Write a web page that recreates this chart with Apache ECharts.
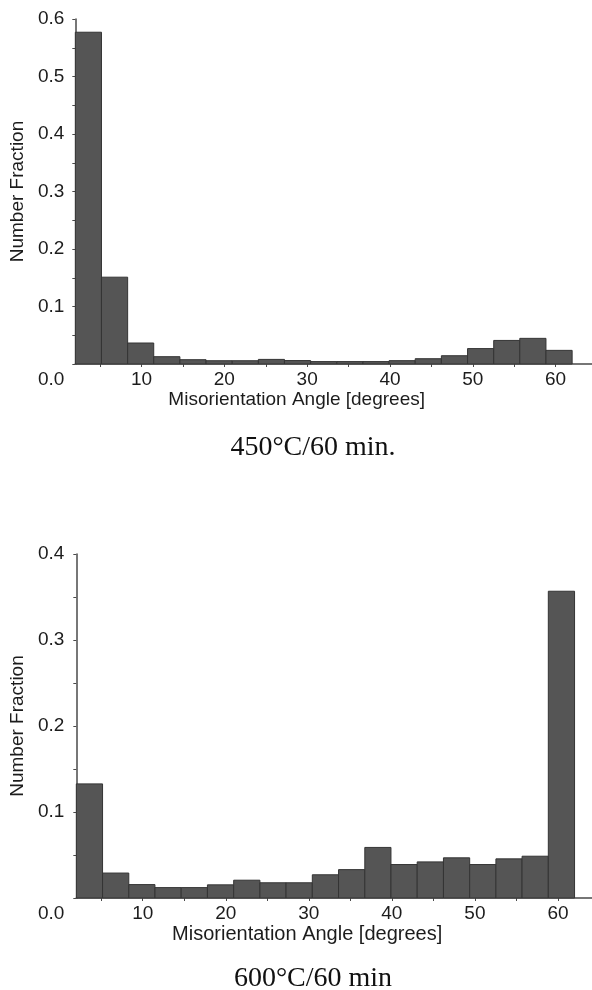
<!DOCTYPE html>
<html>
<head>
<meta charset="utf-8">
<script src="https://cdn.jsdelivr.net/npm/echarts@6.0.0/dist/echarts.min.js"></script>
<style>
html,body{margin:0;padding:0;background:#fff;}
#chart{width:592px;height:990px;}
</style>
</head>
<body>
<div id="chart"></div>
<script>
// Bin edges (misorientation angle, degrees)
const binEdges = [2, 5.16, 8.32, 11.47, 14.63, 17.79, 20.95, 24.11, 27.26, 30.42,
  33.58, 36.74, 39.89, 43.05, 46.21, 49.37, 52.53, 55.68, 58.84, 62];
// Number fraction per bin, 450°C/60 min
const fraction450 = [0.577, 0.151, 0.0365, 0.0127, 0.0075, 0.0057, 0.0057, 0.0080, 0.0060, 0.0042,
  0.0042, 0.0042, 0.0058, 0.0092, 0.0144, 0.0268, 0.0410, 0.0446, 0.0237];
// Number fraction per bin, 600°C/60 min
const fraction600 = [0.1327, 0.0290, 0.0156, 0.0121, 0.0121, 0.0153, 0.0207, 0.0177, 0.0177, 0.0270,
  0.0330, 0.0588, 0.0389, 0.0420, 0.0467, 0.0389, 0.0455, 0.0486, 0.3567];
const xTickValues = [5, 10, 15, 20, 25, 30, 35, 40, 45, 50, 55, 60];
const xLabelValues = [10, 20, 30, 40, 50, 60];
const captions = ['450°C/60 min.', '600°C/60 min'];
const xName = 'Misorientation Angle [degrees]';
const yName = 'Number Fraction';

function binData(values) {
  return values.map((v, i) => [binEdges[i], binEdges[i + 1], v]);
}

const textColor = '#1c1c1c';
const axisColor = '#4a4a4a';
const sans = 'Liberation Sans, Arial, sans-serif';

function renderBin(params, api) {
  const p0 = api.coord([api.value(0), api.value(2)]);
  const p1 = api.coord([api.value(1), 0]);
  return {
    type: 'rect',
    shape: { x: p0[0], y: p0[1], width: p1[0] - p0[0], height: p1[1] - p0[1] },
    style: { fill: '#555555', stroke: '#343434', lineWidth: 1 }
  };
}

function xAxisCfg(gridIndex, max, padRight, fontSize) {
  return {
    type: 'value', gridIndex: gridIndex, min: 2, max: max,
    axisLine: { show: true, lineStyle: { color: axisColor, width: 1.5 } },
    axisTick: { show: true, length: 3, customValues: xTickValues, lineStyle: { color: axisColor } },
    axisLabel: { customValues: xLabelValues, margin: 6, color: textColor, fontFamily: sans, fontSize: 19 },
    splitLine: { show: false },
    name: xName, nameLocation: 'middle', nameGap: 26,
    nameTextStyle: { color: textColor, fontFamily: sans, fontSize: fontSize, padding: [0, padRight, 0, 0] }
  };
}

function yAxisCfg(gridIndex, max, margin) {
  return {
    type: 'value', gridIndex: gridIndex, min: 0, max: max, interval: 0.1,
    axisLine: { show: true, lineStyle: { color: axisColor, width: 1.5 } },
    axisTick: { show: true, length: 3, lineStyle: { color: axisColor } },
    minorTick: { show: true, splitNumber: 2, length: 3, lineStyle: { color: axisColor } },
    splitLine: { show: false },
    axisLabel: {
      margin: margin, color: textColor, fontFamily: sans, fontSize: 19,
      formatter: v => (v === 0 ? '{z|0.0}' : v.toFixed(1)),
      rich: { z: { padding: [32, 0, 0, 0], color: textColor, fontFamily: sans, fontSize: 19 } }
    },
    name: yName, nameLocation: 'middle', nameRotate: 90, nameGap: 43,
    nameTextStyle: { color: textColor, fontFamily: sans, fontSize: 19 }
  };
}

const chart = echarts.init(document.getElementById('chart'), null, { renderer: 'canvas' });
chart.setOption({
  backgroundColor: '#ffffff',
  animation: false,
  title: [
    { text: captions[0], left: 308, top: 429, textAlign: 'center',
      textStyle: { fontFamily: 'Liberation Serif, Times New Roman, serif', fontSize: 28, fontWeight: 'normal', color: '#111' } },
    { text: captions[1], left: 308, top: 960, textAlign: 'center',
      textStyle: { fontFamily: 'Liberation Serif, Times New Roman, serif', fontSize: 28, fontWeight: 'normal', color: '#111' } }
  ],
  grid: [
    { left: 73, top: 19, width: 519, height: 345 },
    { left: 76, top: 554, width: 516, height: 344 }
  ],
  xAxis: [xAxisCfg(0, 64.4, 74, 19), xAxisCfg(1, 64.1, 54, 20)],
  yAxis: [yAxisCfg(0, 0.6, 11), yAxisCfg(1, 0.4, 12)],
  series: [
    { type: 'custom', xAxisIndex: 0, yAxisIndex: 0, renderItem: renderBin,
      encode: { x: [0, 1], y: 2 }, data: binData(fraction450) },
    { type: 'custom', xAxisIndex: 1, yAxisIndex: 1, renderItem: renderBin,
      encode: { x: [0, 1], y: 2 }, data: binData(fraction600) }
  ]
});
</script>
</body>
</html>
